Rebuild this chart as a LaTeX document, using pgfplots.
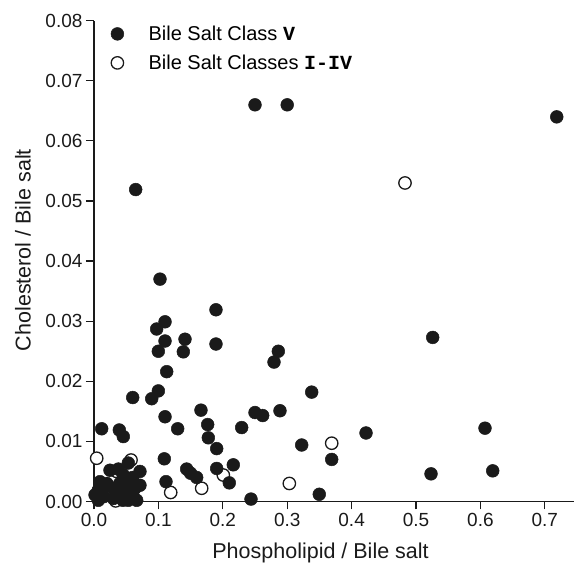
\documentclass[border=0pt]{standalone}
\usepackage{fontspec}
\setmainfont{Liberation Sans}
\setmonofont{Liberation Mono}
\usepackage{pgfplots}
\pgfplotsset{compat=1.18}
\definecolor{ink}{HTML}{1A1A1A}
\begin{document}
\begin{tikzpicture}
\begin{axis}[
  scale only axis, width=480pt, height=480.8pt,
  xmin=0, xmax=0.7453, ymin=0, ymax=0.08,
  axis lines=left,
  axis line style={-, line width=1.5pt, color=ink},
  clip=false,
  xtick={0,0.1,0.2,0.3,0.4,0.5,0.6,0.7},
  ytick={0,0.01,0.02,0.03,0.04,0.05,0.06,0.07,0.08},
  /pgf/number format/assume math mode=true,
  xticklabel style={/pgf/number format/fixed, /pgf/number format/fixed zerofill, /pgf/number format/precision=1},
  yticklabel style={/pgf/number format/fixed, /pgf/number format/fixed zerofill, /pgf/number format/precision=2},
  scaled y ticks=false,
  tick label style={font=\fontsize{19}{22}\selectfont, color=ink},
  major tick length=8pt, tick align=outside,
  tick style={line width=1.2pt, color=ink},
  xlabel={Phospholipid / Bile salt},
  ylabel={Cholesterol / Bile salt},
  label style={font=\fontsize{21.5}{25}\selectfont, color=ink},
  xlabel style={at={(axis description cs:0.472,-0.108)}, anchor=center},
  ylabel style={at={(axis description cs:-0.148,0.523)}, anchor=center},
  reverse legend,
  legend style={at={(axis description cs:0,1)}, anchor=north west, xshift=13pt, yshift=-1pt,
    draw=none, fill=none, font=\fontsize{20}{24}\selectfont, row sep=9pt,
    cells={anchor=west}},
  legend image code/.code={\path (-7pt,0pt) (29pt,0pt); \draw[#1] plot coordinates {(0pt,0pt)};},
]
% open circles: Bile Salt Classes I-IV
\addplot[only marks, mark=*, mark size=6.2pt, mark options={draw=ink, fill=white, line width=1.3pt}]
coordinates {
(0.4829,0.0530) (0.3691,0.0097) (0.3033,0.0030) (0.0042,0.0072)
(0.0575,0.0069) (0.2008,0.0044) (0.1191,0.0015) (0.1672,0.0022)
(0.0337,0.0001) (0.0352,0.0050) (0.0450,0.0035) (0.0550,0.0028)
};
\addlegendentry{Bile Salt Classes {\ttfamily\bfseries I-IV}}
% filled circles: Bile Salt Class V
\addplot[only marks, mark=*, mark size=6.4pt, mark options={draw=ink, fill=ink, line width=0.5pt}]
coordinates {
(0.250,0.0660) (0.300,0.0660) (0.7185,0.0640) (0.0647,0.0519)
(0.1025,0.0370) (0.1894,0.0319) (0.1103,0.0299) (0.0973,0.0287)
(0.1103,0.0267) (0.1413,0.0270) (0.0999,0.0250) (0.1387,0.0249)
(0.1894,0.0262) (0.2862,0.0250) (0.2795,0.0232) (0.5259,0.0273)
(0.1129,0.0216) (0.0999,0.0184) (0.0896,0.0171) (0.0601,0.0173)
(0.3380,0.0182) (0.1103,0.0141) (0.1661,0.0152) (0.2500,0.0148)
(0.2619,0.0143) (0.2888,0.0151) (0.0119,0.0121) (0.0393,0.0119)
(0.0455,0.0108) (0.1299,0.0121) (0.1765,0.0128) (0.1775,0.0106)
(0.2293,0.0123) (0.4224,0.0114) (0.6071,0.0122) (0.1905,0.0088)
(0.3225,0.0094) (0.3691,0.0070) (0.1092,0.0071) (0.2163,0.0061)
(0.1905,0.0055) (0.2101,0.0031) (0.1439,0.0054) (0.1500,0.0047)
(0.1594,0.0040) (0.1118,0.0033) (0.5233,0.0046) (0.6191,0.0051)
(0.2438,0.0004) (0.3498,0.0012) (0.0533,0.0064)
(0.0248,0.0052) (0.0378,0.0054) (0.0714,0.0050) (0.0450,0.0045)
(0.0600,0.0040) (0.0093,0.0033) (0.0067,0.0019) (0.0016,0.0011)
(0.0067,0.0002) (0.0171,0.0025) (0.0300,0.0022) (0.0481,0.0019)
(0.0637,0.0022) (0.0714,0.0027) (0.0533,0.0002) (0.0663,0.0002)
(0.0378,0.0011) (0.0200,0.0030) (0.0400,0.0030) (0.0550,0.0030)
(0.0150,0.0008) (0.0300,0.0005) (0.0600,0.0012) (0.0450,0.0002)
};
\addlegendentry{Bile Salt Class {\ttfamily\bfseries V}}
\end{axis}
\pgfresetboundingbox
\path[use as bounding box] (-94pt,-63.5pt) rectangle (480pt,501.5pt);
\end{tikzpicture}
\end{document}
